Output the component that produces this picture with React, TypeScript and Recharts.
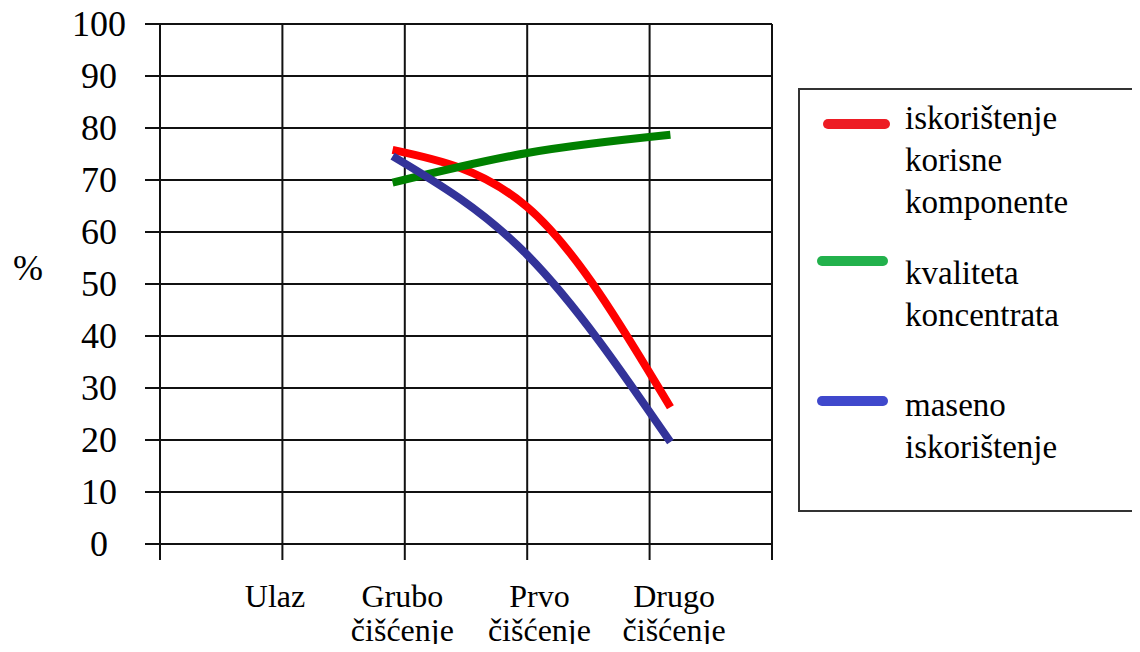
import { LineChart, Line, XAxis, YAxis, CartesianGrid, Legend } from "recharts";

const FONT = '"Liberation Serif", "Times New Roman", serif';

// stages of the process, and where each name sits on the x scale (grid units 0..5)
const stages = ["Ulaz", "Grubo čišćenje", "Prvo čišćenje", "Drugo čišćenje"];
const stageAt = [0.94, 1.98, 3.1, 4.2];

// measurements after grubo, prvo and drugo čišćenje
const measuredAt = [1.9, 3.0, 4.17];
const iskoristenjeKorisne = [75.8, 64.8, 26.3];
const kvalitetaKoncentrata = [69.5, 75.2, 78.7];
const masenoIskoristenje = [74.6, 55.6, 19.6];

const gridX = [0, 1, 2, 3, 4, 5];
const yTicks = [0, 10, 20, 30, 40, 50, 60, 70, 80, 90, 100];

const series = [
  { key: "korisna", name: "iskorištenje korisne komponente", color: "#ff0000", legendColor: "#ed1c24" },
  { key: "kvaliteta", name: "kvaliteta koncentrata", color: "#008000", legendColor: "#22b14c" },
  { key: "maseno", name: "maseno iskorištenje", color: "#333399", legendColor: "#3f48cc" },
];

const data = measuredAt.map((x, i) => ({
  x,
  korisna: iskoristenjeKorisne[i],
  kvaliteta: kvalitetaKoncentrata[i],
  maseno: masenoIskoristenje[i],
}));

// legend rows inside the box: y of the sample line and of the first text baseline
const legendRows = [
  { lineY: 36, textY: 41, x1: 30, x2: 87 },
  { lineY: 173, textY: 196, x1: 24, x2: 85 },
  { lineY: 313, textY: 328, x1: 24, x2: 85 },
];

const textStyle = { fontFamily: FONT };

function NoTick() {
  return <g />;
}

function PercentTick({ y, payload }: any) {
  return (
    <text x={99} y={y} dy={12} textAnchor="middle" style={textStyle} fontSize={36} fill="#000">
      {payload.value}
    </text>
  );
}

function StageTick({ x, y, payload }: any) {
  const idx = stageAt.indexOf(payload.value);
  const words = (stages[idx] || "").split(" ");
  return (
    <text x={x} y={y} textAnchor="middle" style={textStyle} fontSize={32} fill="#000">
      {words.map((w, i) => (
        <tspan key={i} x={x} dy={i === 0 ? 47 : 34}>
          {w}
        </tspan>
      ))}
    </text>
  );
}

function PercentLabel({ viewBox }: any) {
  return (
    <text x={viewBox.x + 28} y={viewBox.y + 256} textAnchor="middle" style={textStyle} fontSize={36} fill="#000">
      %
    </text>
  );
}

function LegendBox({ payload }: any) {
  return (
    <svg width={360} height={424} style={{ display: "block" }}>
      <rect x={1} y={1} width={370} height={422} fill="#fff" stroke="#333" strokeWidth={2} />
      {(payload || []).map((p: any, i: number) => {
        const row = legendRows[i];
        const s = series[i];
        return (
          <g key={p.value}>
            <line x1={row.x1} x2={row.x2} y1={row.lineY} y2={row.lineY} stroke={s.legendColor} strokeWidth={10} strokeLinecap="round" />
            <text x={107} y={row.textY} style={textStyle} fontSize={33} fill="#000">
              {String(p.value)
                .split(" ")
                .map((w: string, j: number) => (
                  <tspan key={j} x={107} dy={j === 0 ? 0 : 42}>
                    {w}
                  </tspan>
                ))}
            </text>
          </g>
        );
      })}
    </svg>
  );
}

export default function App() {
  return (
    <div style={{ margin: -8, width: 1140, height: 652, background: "#fff", overflow: "hidden", fontFamily: FONT }}>
      <LineChart width={1140} height={652} data={data} margin={{ top: 24, right: 368, bottom: 0, left: 0 }}>
        <CartesianGrid stroke="#111" strokeWidth={2} strokeDasharray="" />
        <XAxis
          dataKey="x"
          type="number"
          domain={[0, 5]}
          ticks={gridX}
          interval={0}
          height={16}
          tickSize={16}
          tick={<NoTick />}
          axisLine={{ stroke: "#111", strokeWidth: 2 }}
          tickLine={{ stroke: "#111", strokeWidth: 2 }}
        />
        <XAxis
          xAxisId="stage"
          dataKey="x"
          type="number"
          domain={[0, 5]}
          ticks={stageAt}
          interval={0}
          height={92}
          tickSize={0}
          tickMargin={0}
          axisLine={false}
          tickLine={false}
          tick={<StageTick />}
        />
        <YAxis
          type="number"
          domain={[0, 100]}
          ticks={yTicks}
          interval={0}
          width={160}
          tickSize={15}
          tick={<PercentTick />}
          axisLine={{ stroke: "#111", strokeWidth: 2 }}
          tickLine={{ stroke: "#111", strokeWidth: 2 }}
          label={<PercentLabel />}
        />
        <Legend
          layout="vertical"
          align="center"
          verticalAlign="middle"
          content={<LegendBox />}
          wrapperStyle={{ position: "absolute", left: 798, top: 88, width: 360, height: 424 }}
        />
        {series.map(s => (
          <Line
            key={s.key}
            type="monotone"
            dataKey={s.key}
            name={s.name}
            stroke={s.color}
            strokeWidth={8}
            dot={false}
            activeDot={false}
            isAnimationActive={false}
          />
        ))}
      </LineChart>
    </div>
  );
}
